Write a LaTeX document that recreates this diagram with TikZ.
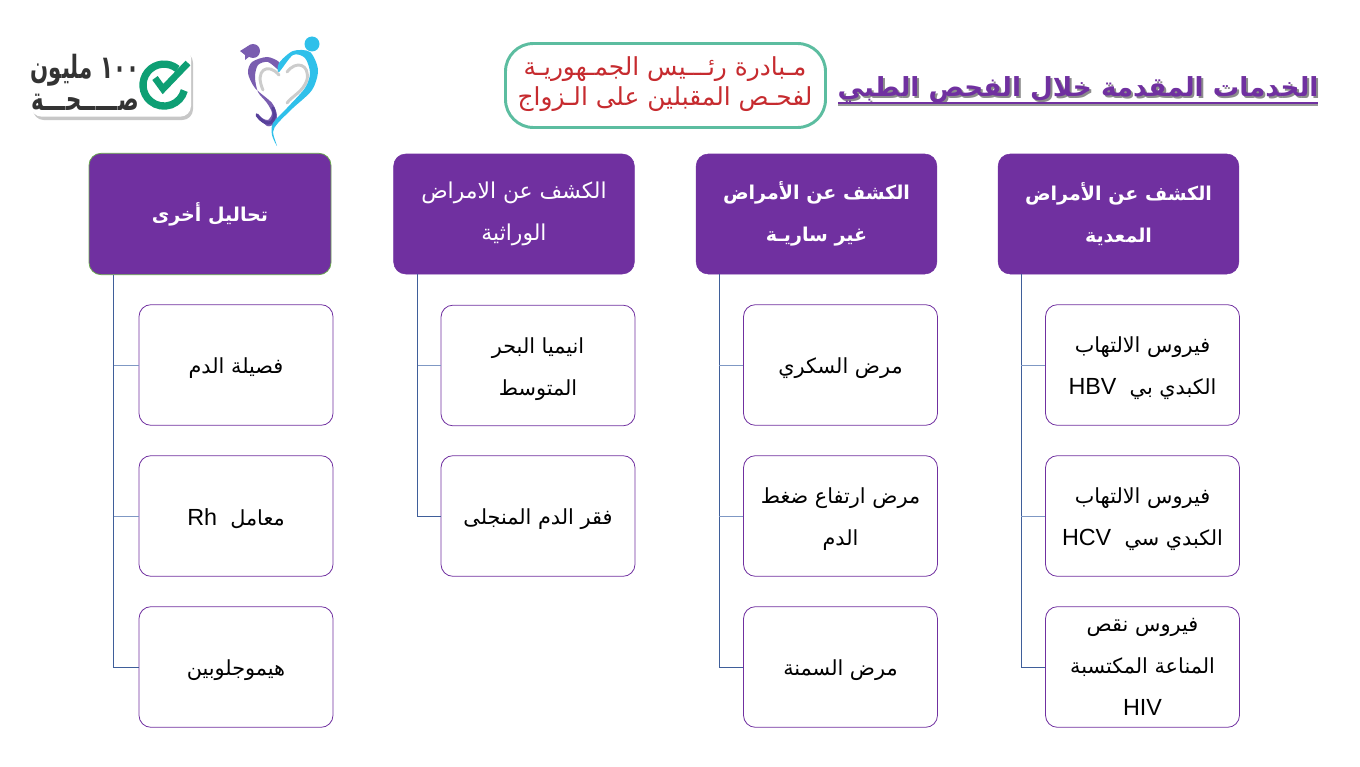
\documentclass[tikz,border=0pt]{standalone}
\usepackage{fontspec}
\setmainfont{Liberation Sans}
\newfontfamily\arabicfont[Script=Arabic]{DejaVu Sans}
\TeXXeTstate=1
\newcommand{\ar}[1]{\beginR #1\endR}
\newcommand{\lat}[1]{\beginL{\fontspec{Liberation Sans}\fontsize{17.5}{31.5}\selectfont #1}\endL{}}
\definecolor{purp}{HTML}{7030A0}
\definecolor{trunkc}{HTML}{3F5E9A}
\definecolor{branchc}{HTML}{7F98C4}
\definecolor{leaf}{HTML}{6AA84F}
\definecolor{rim}{HTML}{5CBDA0}
\definecolor{redt}{HTML}{C62B2F}
\definecolor{ringg}{HTML}{0E9F74}
\definecolor{skyb}{HTML}{2FC0EA}
\definecolor{hervio}{HTML}{7A5DB0}
\definecolor{deepv}{HTML}{57409A}
\definecolor{darkg}{HTML}{333333}
\tikzset{
  headbox/.style={draw=purp,fill=purp,rounded corners=9pt,minimum width=180.5pt,minimum height=90pt,inner sep=0pt,
    text=white,align=center,font=\arabicfont\fontsize{14.3}{31.5}\selectfont\bfseries},
  headlight/.style={headbox,font=\arabicfont\fontsize{16.4}{31.5}\selectfont},
  itembox/.style={draw=purp,line width=0.6pt,fill=white,rounded corners=9pt,minimum width=145.5pt,minimum height=90.5pt,inner sep=0pt,
    text=black,align=center,font=\arabicfont\fontsize{15.6}{31.5}\selectfont,
    execute at begin node={\rule{0pt}{16pt}}},
  trunkline/.style={draw=trunkc,line width=0.6pt},
  branchline/.style={draw=branchc,line width=0.7pt},
  redline/.style={text=redt,font=\arabicfont\fontsize{18.6}{22}\selectfont,inner sep=0pt},
  titletext/.style={font=\arabicfont\fontsize{19.7}{22}\selectfont\bfseries,inner sep=0pt},
  logotext/.style={text=darkg,font=\arabicfont\fontsize{16}{20}\selectfont\bfseries,inner sep=0pt,transform shape,yscale=1.5},
}
\begin{document}
\begin{tikzpicture}[x=0.75pt,y=-0.75pt]
\useasboundingbox (0,0) rectangle (1360,767);
% title
\node[titletext,text=black!45] (titleshadow) at (1080,92) {\ar{الخدمات المقدمة خلال الفحص الطبي}};
\node[titletext,text=purp] (title) at (1078,90) {\ar{الخدمات المقدمة خلال الفحص الطبي}};
\fill[black!40] (838,104.5) rectangle (1318,106.5);
\fill[purp] (838,102.5) rectangle (1318,104.5);
% initiative box
\node[draw=rim,line width=2.2pt,rounded corners=21pt,minimum width=240pt,minimum height=63pt,inner sep=0pt] (initiative) at (665.5,85.5) {};
\node[redline] (initA) at (665,69) {\ar{مـبادرة رئـــيس الجمـهوريـة}};
\node[redline] (initB) at (665,99) {\ar{لفحـص المقبلين على الـزواج}};
% 100 million logo
\fill[black!22,rounded corners=8pt] (33,52) rectangle (193,120);
\node[fill=white,rounded corners=8pt,minimum width=120pt,minimum height=52pt,inner sep=0pt] (logobox) at (111,82) {};
\draw[ringg,line width=5.5pt] (177.5,69) arc[start angle=-50,end angle=-345,radius=21];
\draw[ringg,line width=5pt,line join=miter] (155,78) -- (163,89) -- (188,63);
\node[logotext] (logoA) at (85,70) {\ar{١٠٠ مليون}};
\node[logotext] (logoB) at (85,102) {\ar{صـــــحـــة}};
% heart logo
\fill[skyb] (312,44) circle[radius=7.5];
\fill[hervio] (253,51) circle[radius=7];
\fill[hervio] (240,51) -- (248,46) -- (250,56) -- (245,60) -- (245,55) -- cycle;
\draw[black!20,line width=2.2pt,line cap=round] (279,75) .. controls (268,62) and (254,70) .. (263,90);
\draw[black!20,line width=2.2pt,line cap=round] (287,72) .. controls (296,60) and (310,64) .. (307,80);
\draw[black!20,line width=2.2pt,line cap=round] (307,80) .. controls (303,92) and (292,96) .. (287,103);
\fill[hervio] plot[smooth cycle] coordinates {(279,62) (267,57) (252,62) (248,73) (255,88) (272,103) (277,115) (275,123) (267,126) (256,113) (262,118) (268,120) (272,113) (267,103) (258,92) (255,77) (258,65) (268,62) (279,70)};
\draw[deepv,line width=2.4pt,line cap=round] (273,108) .. controls (278,122) and (268,130) .. (257,115);
\fill[skyb] plot[smooth cycle] coordinates {(279,63) (293,51) (310,52) (318,70) (312,90) (293,108) (278,123) (273,132) (277,146) (272,135) (273,123) (287,108) (305,88) (310,73) (305,58) (293,55) (279,72)};
% columns
\node[headbox] (h1) at (1118.5,214) {\ar{الكشف عن الأمراض}\\\ar{المعدية}};
\node[headbox] (h2) at (816.5,214) {\ar{الكشف عن الأمراض}\\\ar{غير ساريـة}};
\node[headlight] (h3) at (514,214) {\ar{الكشف عن الامراض}\\\ar{الوراثية}};
\node[headbox,draw=leaf,line width=0.6pt,minimum width=181.5pt,minimum height=91pt] (h4) at (210,214) {\ar{تحاليل أخرى}};
\node[itembox] (a1) at (1142.5,365) {\rule{0pt}{17pt}\ar{فيروس الالتهاب}\\\ar{الكبدي بي\ \ \lat{HBV}}};
\node[itembox] (a2) at (1142.5,516) {\rule{0pt}{17pt}\ar{فيروس الالتهاب}\\\ar{الكبدي سي\ \ \lat{HCV}}};
\node[itembox] (a3) at (1142.5,667) {\ar{فيروس نقص}\\\ar{المناعة المكتسبة}\\\lat{HIV}};
\node[itembox] (b1) at (840.5,365) {\ar{مرض السكري}};
\node[itembox] (b2) at (840.5,516) {\rule{0pt}{17pt}\ar{مرض ارتفاع ضغط}\\\ar{الدم}};
\node[itembox] (b3) at (840.5,667) {\ar{مرض السمنة}};
\node[itembox] (c1) at (538,365.5) {\rule{0pt}{17pt}\ar{انيميا البحر}\\\ar{المتوسط}};
\node[itembox] (c2) at (538,516) {\ar{فقر الدم المنجلى}};
\node[itembox] (d1) at (236,365) {\ar{فصيلة الدم}};
\node[itembox] (d2) at (236,516) {\ar{معامل\ \ \lat{Rh}}};
\node[itembox] (d3) at (236,667) {\ar{هيموجلوبين}};
% connectors
\coordinate (t1) at (1021,274);
\coordinate (t2) at (719,274);
\coordinate (t3) at (417.5,274);
\coordinate (t4) at (113.5,275);
\foreach \t/\last in {t1/a3,t2/b3,t3/c2,t4/d3}{
  \draw[trunkline] (\t) -- (\t |- \last.west) -- (\last.west);
}
\foreach \t/\c in {t1/a1,t1/a2,t2/b1,t2/b2,t3/c1,t4/d1,t4/d2}{
  \draw[branchline] (\t |- \c.west) -- (\c.west);
}
\end{tikzpicture}
\end{document}
